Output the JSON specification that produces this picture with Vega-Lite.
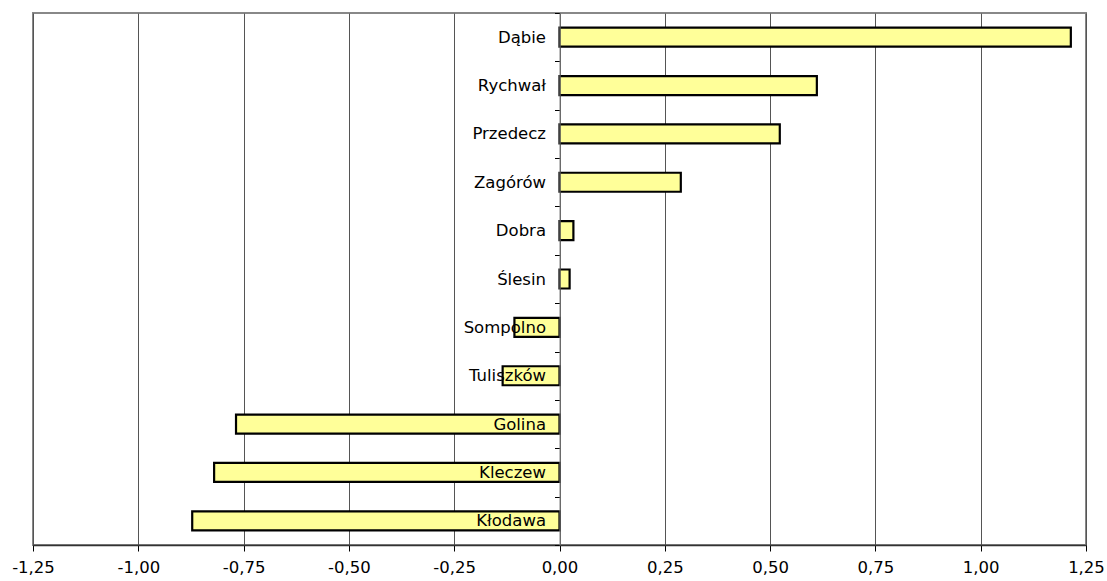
{
  "$schema": "https://vega.github.io/schema/vega-lite/v6.json",
  "width": 1053,
  "height": 532,
  "autosize": {"type": "none"},
  "padding": {"left": 33, "top": 13, "right": 21, "bottom": 36},
  "background": "white",
  "data": {"values": [
    {"gmina": "Dąbie", "value": 1.214},
    {"gmina": "Rychwał", "value": 0.611},
    {"gmina": "Przedecz", "value": 0.523},
    {"gmina": "Zagórów", "value": 0.288},
    {"gmina": "Dobra", "value": 0.033},
    {"gmina": "Ślesin", "value": 0.024},
    {"gmina": "Sompolno", "value": -0.107},
    {"gmina": "Tuliszków", "value": -0.135},
    {"gmina": "Golina", "value": -0.768},
    {"gmina": "Kleczew", "value": -0.820},
    {"gmina": "Kłodawa", "value": -0.872}
  ]},
  "mark": {"type": "bar", "fill": "#FFFF99", "stroke": "#000000", "strokeWidth": 2.2, "size": 19},
  "encoding": {
    "y": {
      "field": "gmina", "type": "nominal", "sort": null, "title": null,
      "scale": {"paddingInner": 0, "paddingOuter": 0},
      "axis": {
        "offset": -526.5, "zindex": 1, "tickBand": "extent", "tickSize": 5,
        "tickColor": "#000000", "domainColor": "#808080", "domainWidth": 1,
        "labelPadding": 9, "labelFont": "DejaVu Sans", "labelFontSize": 16.5,
        "labelColor": "#000000", "grid": false
      }
    },
    "x": {
      "field": "value", "type": "quantitative", "title": null,
      "scale": {"domain": [-1.25, 1.25], "nice": false, "zero": false},
      "axis": {
        "values": [-1.25, -1, -0.75, -0.5, -0.25, 0, 0.25, 0.5, 0.75, 1, 1.25],
        "labelExpr": "replace(replace(format(datum.value, '.2f'), '.', ','), '−', '-')",
        "labelFlush": false, "labelOverlap": false,
        "grid": true, "gridColor": "#555555", "gridWidth": 1,
        "domainColor": "#333333", "domainWidth": 1.5,
        "tickColor": "#000000", "tickSize": 6,
        "labelFont": "DejaVu Sans", "labelFontSize": 16.5, "labelColor": "#000000",
        "labelPadding": 8
      }
    }
  },
  "config": {
    "view": {"stroke": "#888888", "strokeWidth": 2}
  }
}
